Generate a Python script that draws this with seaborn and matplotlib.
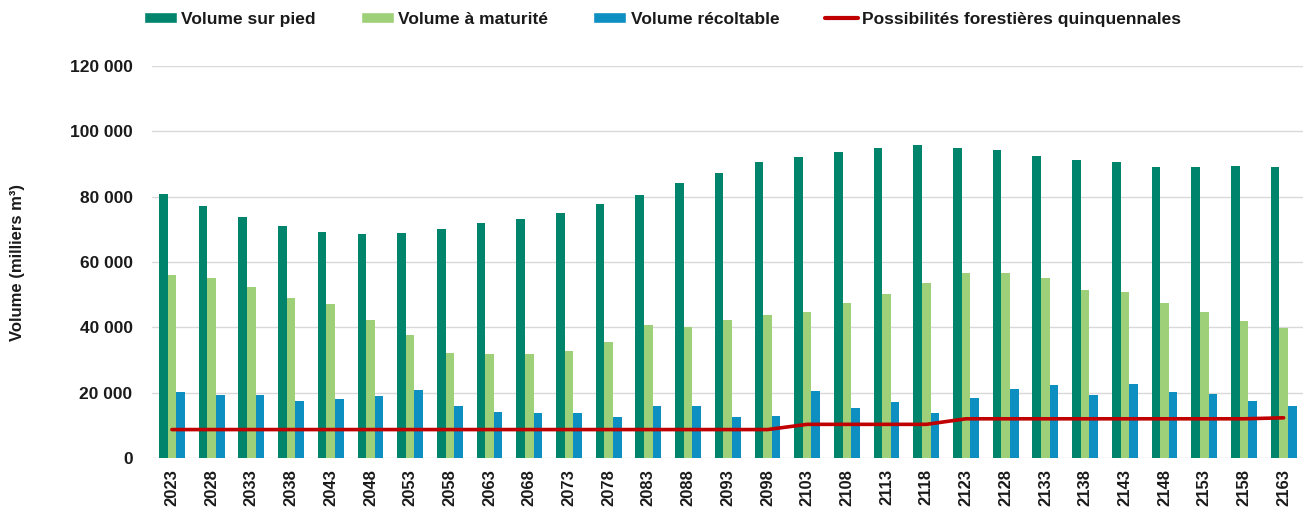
import numpy as np
import pandas as pd
import matplotlib
matplotlib.use('Agg')
import matplotlib.pyplot as plt
from matplotlib.patches import Patch
from matplotlib.lines import Line2D
from matplotlib.ticker import FuncFormatter
import seaborn as sns

annees = [str(a) for a in range(2023, 2164, 5)]

volume_sur_pied = [80800, 77000, 73800, 70900, 69300, 68500, 69000, 70100, 71800, 73300,
                   74900, 77700, 80500, 84100, 87400, 90500, 92200, 93800, 95000, 95800,
                   95000, 94200, 92600, 91300, 90500, 89000, 89000, 89400, 89000]
volume_maturite = [55900, 55000, 52300, 49000, 47100, 42200, 37700, 32100, 31800, 31800,
                   32900, 35400, 40600, 40000, 42300, 43800, 44600, 47400, 50300, 53500,
                   56700, 56700, 55000, 51500, 50700, 47400, 44600, 41800, 39800]
volume_recoltable = [20100, 19300, 19300, 17600, 18000, 18900, 20900, 16000, 14100, 13700,
                     13700, 12400, 16000, 16000, 12400, 12800, 20500, 15200, 17200, 13700,
                     18500, 21200, 22400, 19300, 22800, 20100, 19700, 17600, 16000]
possibilites = [8700] * 16 + [10300] * 4 + [12000] * 8 + [12300]

series = ['Volume sur pied', 'Volume à maturité', 'Volume récoltable']
couleurs = ['#00846C', '#9ED07A', '#0D8FC2']
rouge = '#C00000'

df = pd.DataFrame({
    'annee': annees,
    series[0]: volume_sur_pied,
    series[1]: volume_maturite,
    series[2]: volume_recoltable,
}).melt(id_vars='annee', var_name='serie', value_name='volume')

sns.set_style('white')
plt.rcParams['font.family'] = ['Liberation Sans', 'DejaVu Sans']
plt.rcParams['text.color'] = '#1a1a1a'
plt.rcParams['axes.labelcolor'] = '#1a1a1a'
plt.rcParams['xtick.color'] = '#1a1a1a'
plt.rcParams['ytick.color'] = '#1a1a1a'

fig = plt.figure(figsize=(13.04, 5.15), dpi=100)
ax = fig.add_axes([0.1166, 0.1107, 0.883, 0.7611])

sns.barplot(data=df, x='annee', y='volume', hue='serie', hue_order=series,
            palette=couleurs, width=0.65, gap=0, saturation=1, linewidth=0,
            legend=False, ax=ax)
ax.plot(range(len(annees)), possibilites, color=rouge, lw=2.6, zorder=5)

ax.set_ylim(0, 120000)
ax.set_xlim(-0.5, len(annees) - 0.5)
ax.set_yticks(range(0, 120001, 20000))
ax.yaxis.set_major_formatter(FuncFormatter(lambda v, p: f"{v:,.0f}".replace(",", " ")))
ax.grid(axis='y', color='#D9D9D9', lw=1)
ax.set_axisbelow(True)
for s in ax.spines.values():
    s.set_visible(False)
ax.tick_params(axis='both', length=0)
ax.tick_params(axis='y', pad=14, labelsize=12.5)
ax.tick_params(axis='x', pad=8, labelsize=12)
plt.setp(ax.get_xticklabels(), rotation=90, fontweight='bold')
plt.setp(ax.get_yticklabels(), fontweight='bold')
ax.set_xlabel('')
ax.set_ylabel('Volume (milliers m³)', fontsize=12, fontweight='bold')
ax.yaxis.set_label_coords(-0.110, 0.5)

handles = [Patch(facecolor=c) for c in couleurs] + [Line2D([0], [0], color=rouge, lw=3)]
labels = series + ['Possibilités forestières quinquennales']
fig.legend(handles, labels, loc='upper center', bbox_to_anchor=(0.508, 1.008), ncol=4,
           frameon=False, prop={'weight': 'bold', 'size': 12.5}, columnspacing=2.6,
           handlelength=1.9, handleheight=0.6, handletextpad=0.25)

fig.savefig('out.png', dpi=100)
